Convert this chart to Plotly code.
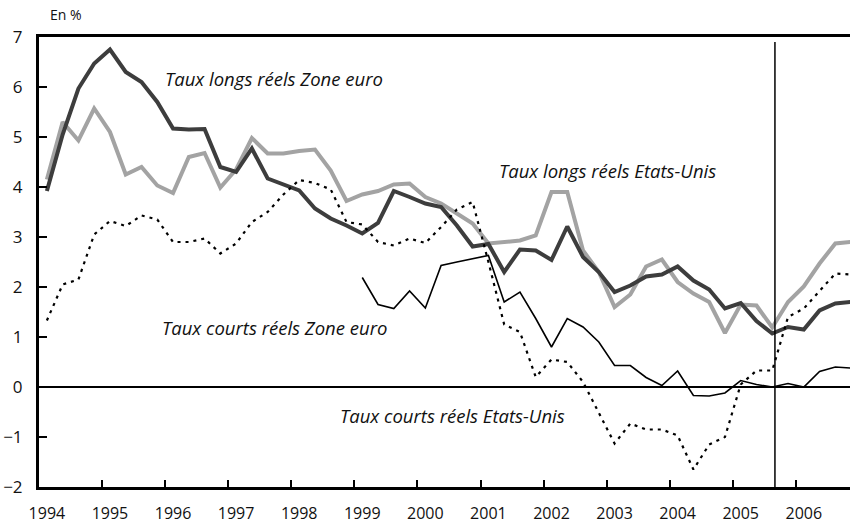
import plotly.graph_objects as go

# Quarterly data, 1994Q1 .. 2006Q4 (index 0..51)
years = list(range(1994, 2007))
year_labels = [str(y) for y in years]

taux_longs_ze = [3.92, 5.05, 5.97, 6.47, 6.75, 6.30, 6.10, 5.70, 5.17, 5.15, 5.16, 4.40,
                 4.30, 4.77, 4.17, 4.05, 3.93, 3.57, 3.37, 3.23, 3.07, 3.28, 3.92, 3.80,
                 3.67, 3.60, 3.23, 2.81, 2.86, 2.30, 2.75, 2.73, 2.54, 3.21, 2.60, 2.30,
                 1.90, 2.03, 2.21, 2.25, 2.41, 2.13, 1.95, 1.57, 1.68, 1.32, 1.07, 1.20,
                 1.15, 1.53, 1.67, 1.70]

taux_longs_us = [4.15, 5.30, 4.93, 5.57, 5.10, 4.25, 4.40, 4.03, 3.88, 4.60, 4.68, 3.99,
                 4.35, 4.98, 4.67, 4.67, 4.72, 4.75, 4.33, 3.72, 3.85, 3.92, 4.05, 4.07,
                 3.80, 3.67, 3.47, 3.27, 2.87, 2.90, 2.93, 3.03, 3.90, 3.90, 2.73, 2.30,
                 1.60, 1.85, 2.41, 2.55, 2.10, 1.87, 1.70, 1.08, 1.65, 1.63, 1.19, 1.70,
                 2.01, 2.47, 2.87, 2.90]

taux_courts_us = [1.33, 2.05, 2.15, 3.05, 3.32, 3.22, 3.43, 3.35, 2.90, 2.90, 2.97, 2.67,
                  2.87, 3.30, 3.50, 3.85, 4.14, 4.08, 3.95, 3.30, 3.25, 2.90, 2.83, 2.97,
                  2.88, 3.20, 3.55, 3.70, 2.50, 1.25, 1.10, 0.20, 0.55, 0.50, 0.10, -0.50,
                  -1.13, -0.73, -0.85, -0.85, -0.97, -1.65, -1.15, -1.00, 0.05, 0.33, 0.33, 1.40,
                  1.57, 1.92, 2.27, 2.25]

# Zone euro short rates start in 1999Q1 (index 20)
taux_courts_ze = [None] * 20 + [2.19, 1.65, 1.57, 1.92, 1.58, 2.43, 2.50, 2.57, 2.63, 1.70,
                                1.90, 1.37, 0.80, 1.37, 1.20, 0.90, 0.43, 0.43, 0.19, 0.03,
                                0.32, -0.17, -0.18, -0.12, 0.13, 0.05, 0.00, 0.07, 0.00, 0.31,
                                0.40, 0.38]

n = len(taux_longs_ze)
xq = list(range(n))
vline_x = 46.17

FONT = "Open Sans"
fig = go.Figure()

fig.add_trace(go.Scatter(x=xq, y=taux_longs_us, mode="lines",
                         line=dict(color="#a3a3a3", width=4), name="Taux longs réels Etats-Unis"))
fig.add_trace(go.Scatter(x=xq, y=taux_longs_ze, mode="lines",
                         line=dict(color="#3d3d3d", width=4), name="Taux longs réels Zone euro"))
fig.add_trace(go.Scatter(x=xq, y=taux_courts_ze, mode="lines",
                         line=dict(color="#000000", width=1.6), name="Taux courts réels Zone euro"))
fig.add_trace(go.Scatter(x=xq, y=taux_courts_us, mode="lines",
                         line=dict(color="#000000", width=2.2, dash="3px,5px"),
                         name="Taux courts réels Etats-Unis"))
# invisible trace for the label axis
fig.add_trace(go.Scatter(x=[0], y=[0], xaxis="x2", mode="markers",
                         marker=dict(opacity=0), showlegend=False, hoverinfo="skip"))

xr = [-0.5, 50.93]
fig.update_layout(
    width=850, height=528,
    margin=dict(l=39, r=0, t=37, b=41),
    paper_bgcolor="white", plot_bgcolor="white",
    showlegend=False,
    font=dict(family=FONT, color="#111111", size=16),
    xaxis=dict(range=xr, showgrid=False, zeroline=False,
               showline=True, linecolor="black", linewidth=3, mirror=True,
               tickmode="array", tickvals=[3.5 + 4 * k for k in range(12)],
               ticks="inside", ticklen=7, tickwidth=2, tickcolor="black",
               showticklabels=False, automargin=False),
    xaxis2=dict(range=xr, overlaying="x", side="bottom", showgrid=False, zeroline=False,
                showline=False, tickmode="array", tickvals=[4 * k for k in range(len(years))],
                ticktext=year_labels, ticks="", ticklabelstandoff=15,
                tickfont=dict(family=FONT, size=16, color="#111111"), automargin=False),
    yaxis=dict(range=[-2, 7], dtick=1, tick0=0, showgrid=False,
               zeroline=True, zerolinecolor="black", zerolinewidth=2,
               showline=True, linecolor="black", linewidth=3,
               ticks="inside", ticklen=8, tickwidth=2, tickcolor="black",
               ticklabelstandoff=10,
               tickfont=dict(family=FONT, size=17, color="#111111"), automargin=False),
)

fig.add_shape(type="line", xref="x", yref="y", x0=vline_x, x1=vline_x, y0=-2, y1=6.9,
              line=dict(color="black", width=1.5))

ann_font = dict(family=FONT, size=18.5, color="#111111")
labels = [
    ("<i>Taux longs réels Zone euro</i>", 7.39, 6.17),
    ("<i>Taux longs réels Etats-Unis</i>", 28.57, 4.33),
    ("<i>Taux courts réels Zone euro</i>", 7.15, 1.19),
    ("<i>Taux courts réels Etats-Unis</i>", 18.44, -0.57),
]
for txt, x, y in labels:
    fig.add_annotation(text=txt, x=x, y=y, xref="x", yref="y", xanchor="left",
                       yanchor="middle", showarrow=False, font=ann_font)

fig.add_annotation(text="En %", xref="paper", yref="paper", x=0.011, y=1.051,
                   xanchor="left", yanchor="middle", showarrow=False,
                   font=dict(family=FONT, size=14, color="#111111"))

fig.write_html("out.html", config={"displayModeBar": False},
               post_script="document.body.style.margin='0';document.body.style.overflow='hidden';")
